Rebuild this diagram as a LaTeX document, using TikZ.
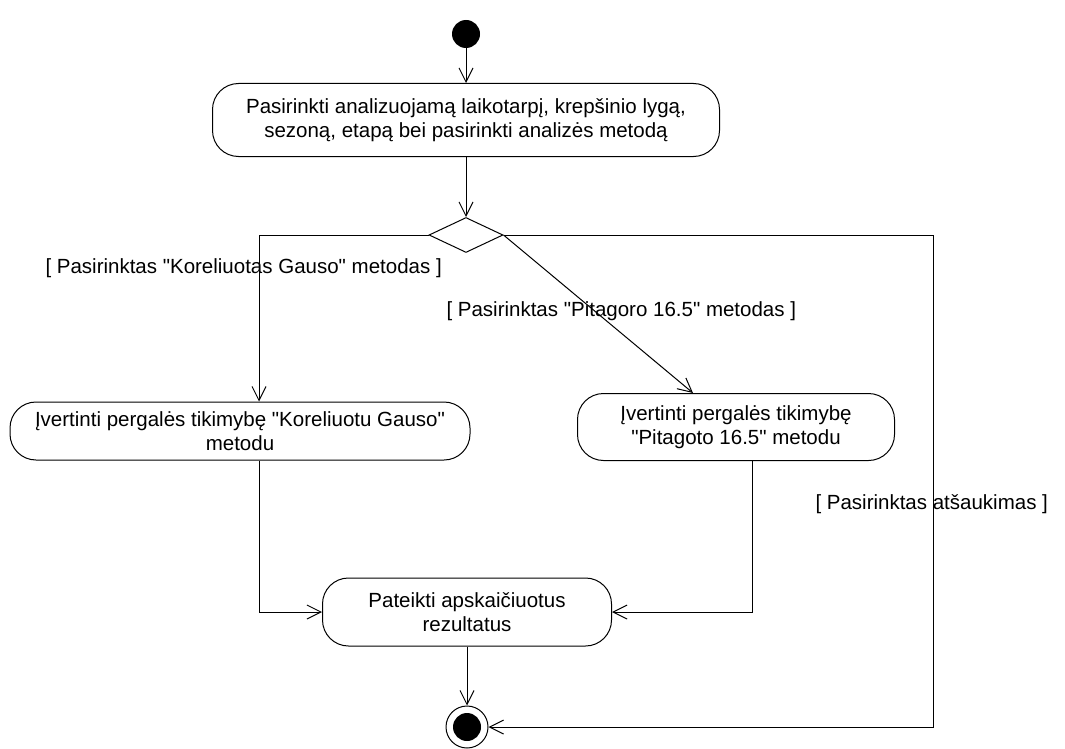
\documentclass[tikz,border=0pt]{standalone}
\usepackage{fontspec}
\setmainfont{Liberation Sans}
\usetikzlibrary{arrows.meta,shapes.geometric}
\newcommand{\qq}{\textquotedbl}
\begin{document}
\begin{tikzpicture}[x=1pt,y=-1pt,
    font=\fontsize{20.5}{24}\selectfont,
    every path/.style={line width=1pt},
    act/.style={draw,rounded corners=26pt,align=center,inner sep=0pt},
    flow/.style={-{Straight Barb[length=14pt,width=14pt]}},
    guard/.style={anchor=west,inner sep=0pt}]
  \useasboundingbox (0,0) rectangle (1065,749);
  \node[circle,fill,minimum size=28pt,inner sep=0pt](start) at (466,34){};
  \node[act,minimum width=507pt,minimum height=73pt](choose) at (466,120)
    {Pasirinkti analizuojamą laikotarpį, krepšinio lygą,\\sezoną, etapą bei pasirinkti analizės metodą};
  \node[draw,diamond,minimum width=74pt,minimum height=35pt,inner sep=0pt](decide) at (466,235){};
  \node[act,minimum width=460pt,minimum height=58pt](gauss) at (240,431)
    {Įvertinti pergalės tikimybę \qq Koreliuotu Gauso\qq\\metodu};
  \node[act,minimum width=317pt,minimum height=67pt](pitag) at (736,427)
    {Įvertinti pergalės tikimybę\\\qq Pitagoto 16.5\qq{} metodu};
  \node[act,minimum width=289pt,minimum height=68pt](result) at (467,612)
    {Pateikti apskaičiuotus\\rezultatus};
  \node[circle,draw,minimum size=42pt,inner sep=0pt](finish) at (467,727){};
  \fill (finish.center) circle (14pt);
  \coordinate (gausstop) at (259,0);
  \coordinate (pitagtop) at (693,393);
  \coordinate (gaussbot) at (259,0);
  \coordinate (pitagbot) at (752,0);
  \coordinate (cancel) at (933,0);
  \draw[flow] (start) -- (choose);
  \draw[flow] (choose) -- (decide);
  \draw[flow] (decide.west) -| (gausstop |- gauss.north);
  \draw[flow] (decide.east) -- (pitagtop);
  \draw[flow] (decide.east) -| (cancel |- finish) -- (finish.east);
  \draw[flow] (gaussbot |- gauss.south) |- (result.west);
  \draw[flow] (pitagbot |- pitag.south) |- (result.east);
  \draw[flow] (result) -- (finish);
  \node[guard] at (45,268) {[ Pasirinktas \qq Koreliuotas Gauso\qq{} metodas ]};
  \node[guard] at (446,311) {[ Pasirinktas \qq Pitagoro 16.5\qq{} metodas ]};
  \node[guard] at (815,504) {[ Pasirinktas atšaukimas ]};
\end{tikzpicture}
\end{document}
